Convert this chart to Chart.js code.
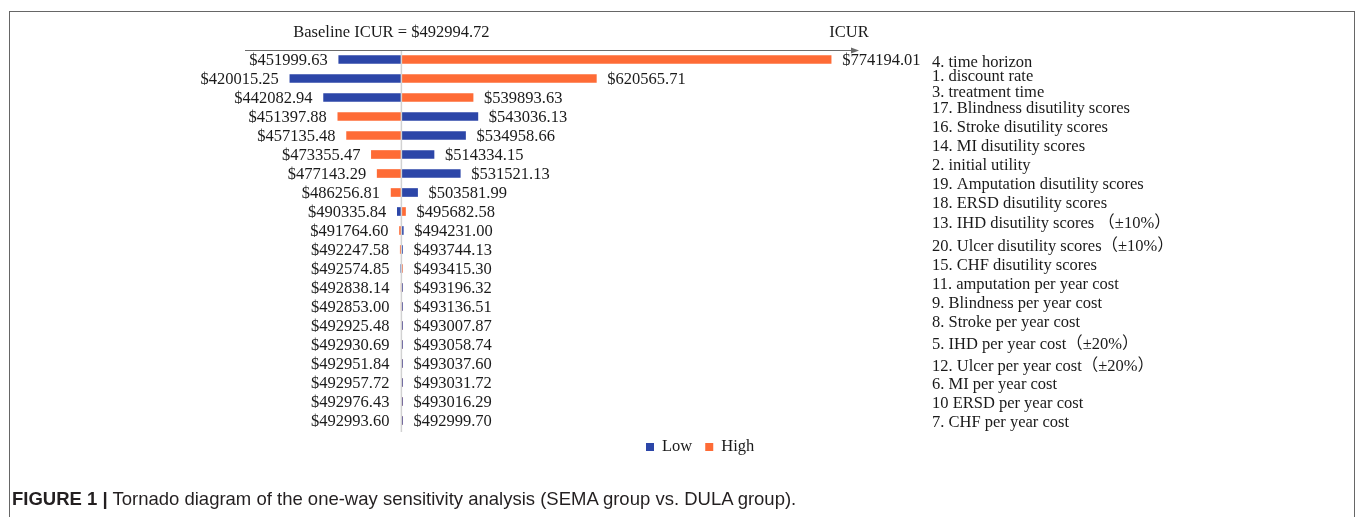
<!DOCTYPE html>
<html>
<head>
<meta charset="utf-8">
<title>Tornado diagram</title>
<script src="https://cdn.jsdelivr.net/npm/chart.js@4.4.1/dist/chart.umd.min.js"></script>
<style>
  body { margin: 0; background: #fff; }
  #frame { position: absolute; left: 9px; top: 11px; width: 1344px; height: 600px; border: 1px solid #666; border-bottom: none; }
  #wrap { position: absolute; left: 0; top: 0; width: 1357px; height: 517px; }
  #caption { position: absolute; left: 12px; top: 488px; font-family: "Liberation Sans", Arial, sans-serif; font-size: 18.5px; color: #231f20; white-space: nowrap; }
  #caption b { font-weight: bold; }
</style>
</head>
<body>
<div id="frame"></div>
<div id="wrap"><canvas id="tornado"></canvas></div>
<div id="caption"><b>FIGURE 1 |</b> Tornado diagram of the one-way sensitivity analysis (SEMA group vs. DULA group).</div>
<script>
// Datos del gráfico
const baseline = 492994.72;

const parameters = [
    '4. time horizon',
    '1. discount rate',
    '3. treatment time',
    '17. Blindness disutility scores',
    '16. Stroke disutility scores',
    '14. MI disutility scores',
    '2. initial utility',
    '19. Amputation disutility scores',
    '18. ERSD disutility scores',
    '13. IHD disutility scores （±10%）',
    '20. Ulcer disutility scores（±10%）',
    '15. CHF disutility scores',
    '11. amputation per year cost',
    '9. Blindness per year cost',
    '8. Stroke per year cost',
    '5. IHD per year cost（±20%）',
    '12. Ulcer per year cost（±20%）',
    '6. MI per year cost',
    '10 ERSD per year cost',
    '7. CHF per year cost'
];

// ICUR con el parámetro en su valor bajo
const lowValues = [
    451999.63, 420015.25, 442082.94, 543036.13, 534958.66,
    514334.15, 531521.13, 503581.99, 490335.84, 494231.00,
    493744.13, 492574.85, 493196.32, 493136.51, 493007.87,
    493058.74, 493037.60, 493031.72, 492976.43, 492993.60
];

// ICUR con el parámetro en su valor alto
const highValues = [
    774194.01, 620565.71, 539893.63, 451397.88, 457135.48,
    473355.47, 477143.29, 486256.81, 495682.58, 491764.60,
    492247.58, 493415.30, 492838.14, 492853.00, 492925.48,
    492930.69, 492951.84, 492957.72, 493016.29, 492999.70
];

const seriesNames = ['Low', 'High'];
const seriesColors = ['#2c46a8', '#fe6b36'];

// Ajuste vertical de las etiquetas de la derecha (cuadro de texto aparte en el original)
const labelShift = [2, -3, -6, -9, -9, -9, -9, -9, -9, -8, -4, -4, -4, -4, -4, -1, 2, 1, 1, 1];

const serif = '"Liberation Serif", "Noto Sans CJK SC", serif';

const extras = {
    id: 'extras',
    afterDatasetsDraw(chart) {
        const { ctx, chartArea, scales: { x } } = chart;
        const bx = x.getPixelForValue(baseline);
        ctx.save();
        ctx.strokeStyle = '#d2d2d2';
        ctx.lineWidth = 1.5;
        ctx.beginPath();
        ctx.moveTo(bx, chartArea.top + 1);
        ctx.lineTo(bx, chartArea.bottom + 2);
        ctx.stroke();
        ctx.restore();
    },
    afterDraw(chart) {
        const { ctx, chartArea, scales: { x, y } } = chart;
        const bx = x.getPixelForValue(baseline);
        ctx.save();

        // eje superior con flecha
        const ay = Math.round(chartArea.top) + 0.5;
        const tip = chartArea.right + 19;
        ctx.strokeStyle = '#6b6b6b';
        ctx.fillStyle = '#6b6b6b';
        ctx.lineWidth = 1;
        ctx.beginPath();
        ctx.moveTo(chartArea.left + 1, ay);
        ctx.lineTo(tip - 4, ay);
        ctx.stroke();
        ctx.beginPath();
        ctx.moveTo(tip, ay);
        ctx.lineTo(tip - 8, ay - 3);
        ctx.lineTo(tip - 8, ay + 3);
        ctx.closePath();
        ctx.fill();

        ctx.font = '16.5px ' + serif;
        ctx.fillStyle = '#1a1a1a';
        ctx.textBaseline = 'middle';
        ctx.textAlign = 'center';
        ctx.fillText('Baseline ICUR = $' + baseline.toFixed(2), bx - 10, 33);
        ctx.fillText('ICUR', chartArea.right + 9, 33);

        // etiquetas de valores y parámetros
        for (let i = 0; i < parameters.length; i++) {
            const yy = y.getPixelForValue(i) + 1;
            const lo = Math.min(lowValues[i], highValues[i]);
            const hi = Math.max(lowValues[i], highValues[i]);
            ctx.textAlign = 'right';
            ctx.fillText('$' + lo.toFixed(2), Math.min(x.getPixelForValue(lo), bx - 1) - 11, yy);
            ctx.textAlign = 'left';
            ctx.fillText('$' + hi.toFixed(2), Math.max(x.getPixelForValue(hi), bx + 1) + 11, yy);
            ctx.fillText(parameters[i], chartArea.right + 92, yy + labelShift[i]);
        }

        // leyenda
        const ly = 447;
        let lx = 646;
        chart.data.datasets.forEach(ds => {
            ctx.fillStyle = ds.backgroundColor;
            ctx.fillRect(lx, ly - 4, 8, 8);
            ctx.fillStyle = '#1a1a1a';
            ctx.textAlign = 'left';
            ctx.fillText(ds.label, lx + 16, ly);
            lx += 16 + ctx.measureText(ds.label).width + 13;
        });
        ctx.restore();
    }
};

const ctx = document.getElementById('tornado').getContext('2d');
const tornadoChart = new Chart(ctx, {
    type: 'bar',
    data: {
        labels: parameters,
        datasets: [
            {
                label: seriesNames[0],
                data: lowValues.map(v => [baseline, v]),
                backgroundColor: seriesColors[0]
            },
            {
                label: seriesNames[1],
                data: highValues.map(v => [baseline, v]),
                backgroundColor: seriesColors[1]
            }
        ]
    },
    options: {
        indexAxis: 'y',
        responsive: true,
        maintainAspectRatio: false,
        animation: false,
        grouped: false,
        barThickness: 8,
        minBarLength: 1,
        borderSkipped: false,
        layout: { padding: { left: 244, right: 517, top: 50, bottom: 87 } },
        scales: {
            x: { type: 'linear', min: 390000, max: 780000, display: false },
            y: { type: 'category', offset: true, display: false }
        },
        plugins: {
            legend: { display: false },
            tooltip: { enabled: false }
        }
    },
    plugins: [extras]
});
</script>
</body>
</html>
